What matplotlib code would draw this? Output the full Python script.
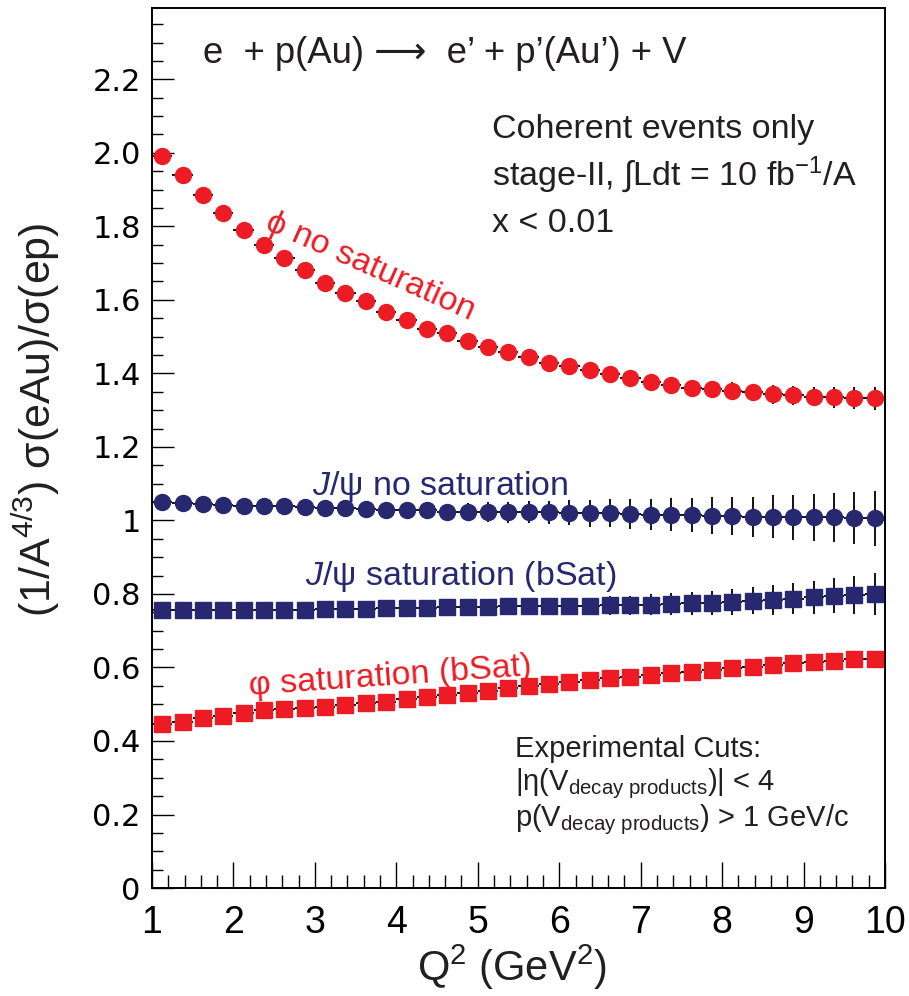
import matplotlib
matplotlib.use("Agg")
import matplotlib.pyplot as plt
import numpy as np

plt.rcParams["font.family"] = ["Liberation Sans", "DejaVu Sans"]
plt.rcParams["mathtext.fontset"] = "custom"
plt.rcParams["mathtext.rm"] = "Liberation Sans"
plt.rcParams["mathtext.sf"] = "Liberation Sans"
plt.rcParams["mathtext.it"] = "Liberation Sans:italic"
plt.rcParams["mathtext.bf"] = "Liberation Sans:bold"

RED = "#ED1C24"
BLUE = "#27286F"

# Q^2 bin centres (bin width 0.25 GeV^2)
q2 = [1.125, 1.375, 1.625, 1.875, 2.125, 2.375, 2.625, 2.875, 3.125, 3.375,
      3.625, 3.875, 4.125, 4.375, 4.625, 4.875, 5.125, 5.375, 5.625, 5.875,
      6.125, 6.375, 6.625, 6.875, 7.125, 7.375, 7.625, 7.875, 8.125, 8.375,
      8.625, 8.875, 9.125, 9.375, 9.625, 9.875]
q2_half_bin = 0.125

phi_nosat = [1.990, 1.940, 1.885, 1.835, 1.790, 1.750, 1.715, 1.680, 1.645, 1.620,
             1.597, 1.568, 1.545, 1.522, 1.510, 1.489, 1.473, 1.458, 1.444, 1.428,
             1.419, 1.408, 1.398, 1.388, 1.377, 1.369, 1.361, 1.357, 1.353, 1.348,
             1.343, 1.341, 1.337, 1.335, 1.333, 1.332]
phi_nosat_err = [0.004, 0.004, 0.005, 0.005, 0.005, 0.006, 0.006, 0.007, 0.007, 0.008,
                 0.008, 0.009, 0.009, 0.010, 0.011, 0.011, 0.012, 0.013, 0.014, 0.014,
                 0.015, 0.016, 0.017, 0.018, 0.019, 0.020, 0.021, 0.022, 0.023, 0.024,
                 0.025, 0.026, 0.027, 0.028, 0.030, 0.031]

jpsi_nosat = [1.051, 1.048, 1.046, 1.042, 1.040, 1.039, 1.039, 1.036, 1.033, 1.033,
              1.030, 1.029, 1.027, 1.027, 1.024, 1.024, 1.023, 1.022, 1.022, 1.022,
              1.021, 1.019, 1.019, 1.017, 1.016, 1.016, 1.015, 1.013, 1.012, 1.010,
              1.010, 1.009, 1.008, 1.008, 1.007, 1.006]
jpsi_nosat_err = [0.006, 0.007, 0.008, 0.009, 0.010, 0.011, 0.012, 0.013, 0.014, 0.016,
                  0.017, 0.018, 0.019, 0.021, 0.022, 0.024, 0.026, 0.028, 0.030, 0.032,
                  0.034, 0.036, 0.038, 0.040, 0.042, 0.045, 0.047, 0.050, 0.052, 0.055,
                  0.058, 0.061, 0.064, 0.067, 0.071, 0.075]

jpsi_sat = [0.757, 0.757, 0.755, 0.755, 0.755, 0.757, 0.757, 0.757, 0.758, 0.758,
            0.758, 0.761, 0.761, 0.763, 0.764, 0.765, 0.765, 0.766, 0.766, 0.766,
            0.767, 0.767, 0.769, 0.769, 0.771, 0.773, 0.775, 0.776, 0.779, 0.782,
            0.784, 0.787, 0.791, 0.795, 0.797, 0.800]
jpsi_sat_err = [0.004, 0.004, 0.005, 0.005, 0.006, 0.006, 0.007, 0.008, 0.008, 0.009,
                0.010, 0.011, 0.012, 0.013, 0.014, 0.015, 0.016, 0.018, 0.019, 0.020,
                0.022, 0.023, 0.025, 0.026, 0.028, 0.030, 0.031, 0.033, 0.035, 0.037,
                0.040, 0.042, 0.045, 0.048, 0.052, 0.057]

phi_sat = [0.446, 0.453, 0.462, 0.468, 0.477, 0.484, 0.486, 0.491, 0.493, 0.498,
           0.504, 0.507, 0.513, 0.519, 0.525, 0.531, 0.537, 0.545, 0.549, 0.555,
           0.561, 0.566, 0.570, 0.573, 0.580, 0.584, 0.589, 0.593, 0.598, 0.602,
           0.606, 0.611, 0.616, 0.618, 0.622, 0.624]
phi_sat_err = [0.002, 0.002, 0.002, 0.002, 0.002, 0.002, 0.003, 0.003, 0.003, 0.003,
               0.003, 0.003, 0.004, 0.004, 0.004, 0.004, 0.004, 0.005, 0.005, 0.005,
               0.005, 0.005, 0.006, 0.006, 0.006, 0.006, 0.007, 0.007, 0.007, 0.007,
               0.008, 0.008, 0.008, 0.009, 0.009, 0.009]

y_ticks = [0, 0.2, 0.4, 0.6, 0.8, 1.0, 1.2, 1.4, 1.6, 1.8, 2.0, 2.2]
y_ticklabels = ["0", "0.2", "0.4", "0.6", "0.8", "1", "1.2", "1.4", "1.6", "1.8", "2.0", "2.2"]
x_ticks = [1, 2, 3, 4, 5, 6, 7, 8, 9, 10]

fig = plt.figure(figsize=(9.09, 9.96), dpi=100)
ax = fig.add_axes([0.1672, 0.1084, 0.8064, 0.8836])

series = [
    (phi_nosat, phi_nosat_err, RED, "o", 11.5),
    (jpsi_nosat, jpsi_nosat_err, BLUE, "o", 11.5),
    (jpsi_sat, jpsi_sat_err, BLUE, "s", 11),
    (phi_sat, phi_sat_err, RED, "s", 11),
]
for vals, errs, col, mk, ms in series:
    ax.errorbar(q2, vals, xerr=q2_half_bin, yerr=errs, fmt="none",
                ecolor="black", elinewidth=1.3, capsize=0, zorder=2)
    ax.plot(q2, vals, linestyle="none", marker=mk, ms=ms, color=col,
            mec=col, zorder=3)

ax.set_xlim(1, 10)
ax.set_ylim(0, 2.394)
ax.set_xticks(x_ticks)
ax.set_xticklabels([str(v) for v in x_ticks])
ax.set_xticks(np.arange(1, 10.01, 0.2), minor=True)
ax.set_yticks(y_ticks)
ax.set_yticklabels(y_ticklabels, family="DejaVu Sans", fontsize=22)
ax.set_yticks(np.arange(0, 2.39, 0.05), minor=True)

ax.tick_params(axis="x", which="major", direction="in", length=19, width=1.0,
               labelsize=27, pad=12)
ax.tick_params(axis="x", which="minor", direction="in", length=9.5, width=1.0)
ax.tick_params(axis="y", which="major", direction="in", length=16, width=1.0, pad=8)
ax.tick_params(axis="y", which="minor", direction="in", length=8, width=1.0)
ax.tick_params(top=False, right=False, which="both")
for sp in ax.spines.values():
    sp.set_linewidth(1.4)

# annotations
ax.text(1.626, 2.245, "e  + p(Au) \u27f6  e\u2019 + p\u2019(Au\u2019) + V",
        fontsize=26.3, va="baseline", ha="left", color="#231F20")
ax.text(5.175, 2.041, "Coherent events only", fontsize=24.5, va="baseline", color="#231F20")
ax.text(5.175, 1.913, "stage-II, \u222bLdt = 10 fb$^{-1}$/A", fontsize=24.5,
        va="baseline", color="#231F20")
ax.text(5.175, 1.785, "x < 0.01", fontsize=24.5, va="baseline", color="#231F20")

ax.text(3.68, 1.69, "\u03d5 no saturation", fontsize=24.5, color=RED,
        rotation=-24, ha="center", va="center", rotation_mode="anchor")
ax.text(2.965, 1.069, "$J$/\u03c8 no saturation", fontsize=24.5, color=BLUE,
        va="baseline")
ax.text(2.879, 0.824, "$J$/\u03c8 saturation (bSat)", fontsize=24.5, color=BLUE,
        va="baseline")
ax.text(3.92, 0.574, "\u03c6 saturation (bSat)", fontsize=24.5, color=RED,
        rotation=4, ha="center", va="center", rotation_mode="anchor")

ax.text(5.457, 0.356, "Experimental Cuts:", fontsize=21, va="baseline", color="#231F20")
ax.text(5.457, 0.267, "|\u03b7(V$_{\\mathrm{decay\\ products}}$)| < 4", fontsize=21,
        va="baseline", color="#231F20")
ax.text(5.457, 0.169, "p(V$_{\\mathrm{decay\\ products}}$) > 1 GeV/c", fontsize=21,
        va="baseline", color="#231F20")

fig.text(512 / 909, 1 - 981 / 996, "Q$^{2}$ (GeV$^{2}$)", fontsize=30,
         ha="center", va="baseline", color="#231F20")
fig.text(36 / 909, 1 - 420 / 996, "(1/A$^{4/3}$) \u03c3(eAu)/\u03c3(ep)", fontsize=31,
         rotation=90, ha="center", va="center", color="#231F20")

fig.savefig("out.png", dpi=100)
plt.close(fig)
